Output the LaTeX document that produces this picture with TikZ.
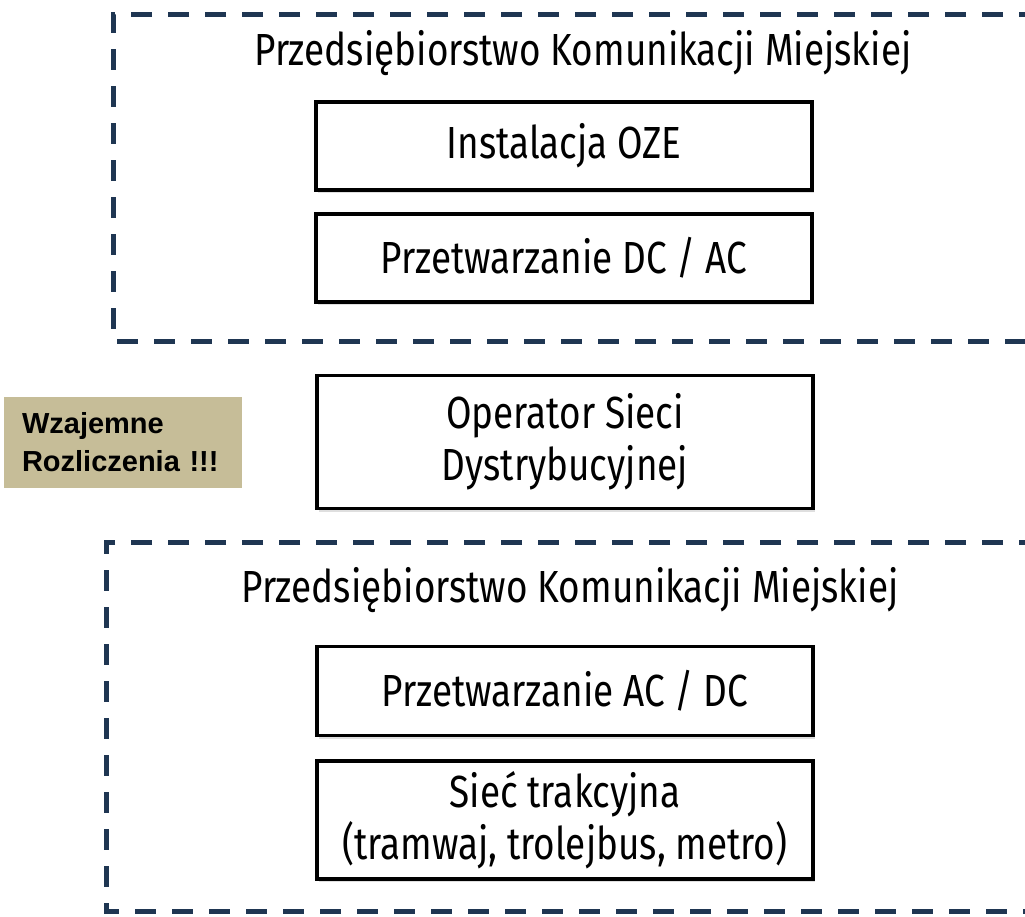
\documentclass[tikz,border=0pt]{standalone}
\usepackage{fontspec}
\setmainfont{Fira Sans}[FakeStretch=0.82]
\newfontfamily\notefont{Liberation Sans}
\usepackage{tikz}
\usetikzlibrary{shadows}

\definecolor{frameblue}{HTML}{1F3652}
\definecolor{notetan}{HTML}{C6BD98}

\begin{document}
\begin{tikzpicture}[
    x = 1pt, y = -1pt,
    B/.style = {draw, line width=3.5pt, fill=white, align=center,
                minimum width=496pt, inner sep=0pt,
                font=\fontsize{45}{52}\selectfont,
                drop shadow={opacity=0.25, shadow xshift=2pt, shadow yshift=-3pt}},
    T/.style = {font=\fontsize{45}{52}\selectfont},
    frame/.style = {frameblue, line width=5pt, dash pattern=on 21pt off 16pt}
    ]
    \useasboundingbox (0,0) rectangle (1025,916);
    % dashed frames, open to the right
    \begin{scope}
        \clip (0,0) rectangle (1025,916);
        \coordinate (tl1) at (113,14);
        \coordinate (bl1) at (113,341);
        \coordinate (tl2) at (106,542);
        \coordinate (bl2) at (106,911);
        \draw[frame] (1040,14) -- (tl1) -- (bl1) -- (1040,341);
        \draw[frame] (1040,542) -- (tl2) -- (bl2) -- (1040,911);
    \end{scope}
    \node[T] (pkm1) at (583,53) {Przedsiębiorstwo Komunikacji Miejskiej};
    \node[T] (pkm2) at (570,590) {Przedsiębiorstwo Komunikacji Miejskiej};
    \begin{scope}[nodes=B]
        \node[minimum height=88pt] (oze) at (564,146) {Instalacja OZE};
        \node[minimum height=88pt] (dcac) at (564,258) {Przetwarzanie DC / AC};
        \node[minimum height=133pt] (osd) at (565,442) {Operator Sieci\\Dystrybucyjnej};
        \node[minimum height=89pt] (acdc) at (565,691) {Przetwarzanie AC / DC};
        \node[minimum height=118pt] (siec) at (565,820) {Sieć trakcyjna\\(tramwaj, trolejbus, metro)};
    \end{scope}
    \node[fill=notetan, minimum width=238pt, minimum height=91pt, inner xsep=18pt,
          text width=202pt, align=left,
          font=\notefont\bfseries\fontsize{29}{38}\selectfont]
        (rozl) at (123,442.5) {Wzajemne\\Rozliczenia~!!!};
\end{tikzpicture}
\end{document}
